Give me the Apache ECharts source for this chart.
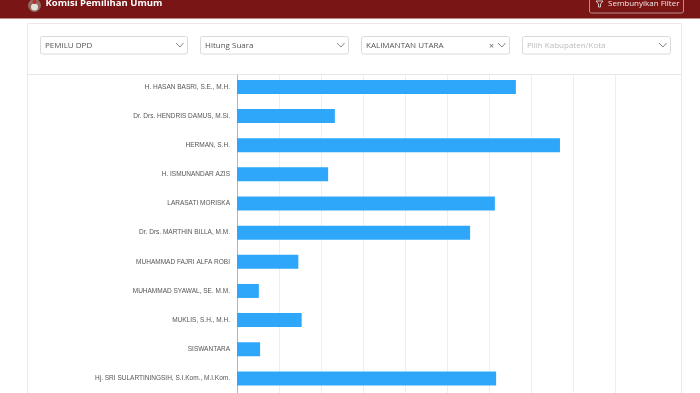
<!DOCTYPE html>
<html><head><meta charset="utf-8">
<style>html,body{margin:0;padding:0;background:#fff;overflow:hidden}#c{width:700px;height:393px}</style>
<script src="https://cdn.jsdelivr.net/npm/echarts@6/dist/echarts.min.js"></script>
</head><body><div id="c"></div>
<script>
const categories = ["H. HASAN BASRI, S.E., M.H.","Dr. Drs. HENDRIS DAMUS, M.Si.","HERMAN, S.H.","H. ISMUNANDAR AZIS","LARASATI MORISKA","Dr. Drs. MARTHIN BILLA, M.M.","MUHAMMAD FAJRI ALFA ROBI","MUHAMMAD SYAWAL, SE. M.M.","MUKLIS, S.H., M.H.","SISWANTARA","Hj. SRI SULARTININGSIH, S.I.Kom., M.I.Kom."];
const votes = [66400,23300,76900,21700,61400,55500,14600,5200,15400,5500,61700];
const filters = ["PEMILU DPD","Hitung Suara","KALIMANTAN UTARA","Pilih Kabupaten/Kota"];
const chart = echarts.init(document.getElementById('c'),null,{renderer:'canvas'});
const font = '"Open Sans", sans-serif';
function box(x,w,label,color,clear){
  const els=[
   {type:'rect',z:20,shape:{x:x+.5,y:36.5,width:w,height:17.5,r:2},style:{fill:'#fff',stroke:'#d8dadd',lineWidth:1}},
   {type:'text',z:21,style:{x:x+5,y:45.5,text:label,fill:color,font:'8px '+font,verticalAlign:'middle'}},
   {type:'polyline',z:21,shape:{points:[[x+w-11,43],[x+w-7,47],[x+w-3.5,43]]},style:{stroke:'#888',fill:null,lineWidth:1}}
  ];
  if(clear)els.push({type:'text',z:21,style:{x:x+w-20,y:46,text:'×',fill:'#666',font:'9px '+font,verticalAlign:'middle'}});
  return els;
}
chart.setOption({
  animation:false,
  grid:{left:237,top:72.3,width:378,height:322.85,containLabel:false},
  xAxis:{type:'value',min:0,max:90000,interval:10000,position:'top',axisLabel:{show:false},axisTick:{show:false},axisLine:{show:false},splitLine:{show:true,lineStyle:{color:'#eeeeee',width:1}}},
  yAxis:{type:'category',inverse:true,data:categories,axisTick:{show:false},axisLine:{show:true,lineStyle:{color:'#b5b5b5',width:1}},axisLabel:{color:'#555',fontSize:6.5,fontFamily:'"Liberation Sans", Arial, sans-serif',margin:7,interval:0,padding:[2,0,0,0]}},
  series:[{type:'bar',data:votes,barWidth:14,itemStyle:{color:'#2ea7fb'}}],
  graphic:[
    {type:'rect',z:10,shape:{x:27.5,y:23.5,width:654,height:400},style:{fill:null,stroke:'#e9e9e9',lineWidth:1}},
    {type:'rect',z:10,shape:{x:28,y:24,width:653,height:50.5},style:{fill:'#fff'}},
    {type:'line',z:11,shape:{x1:27,y1:74.5,x2:682,y2:74.5},style:{stroke:'#e6e6e6',lineWidth:1}},
    {type:'rect',z:12,shape:{x:0,y:0,width:700,height:18.5},style:{fill:'#7a1515'}},
    {type:'circle',z:13,shape:{cx:34.5,cy:5.5,r:6.5},style:{fill:'#8f6a60'}},
    {type:'circle',z:14,shape:{cx:34.5,cy:7,r:3.5},style:{fill:'#e6dfd8'}},
    {type:'circle',z:14,shape:{cx:34.5,cy:2,r:2},style:{fill:'#c22a2a'}},
    {type:'text',z:13,style:{x:45.5,y:3.5,text:'Komisi Pemilihan Umum',fill:'#fff',font:'bold 9.5px "Open Sans", sans-serif',verticalAlign:'middle'}},
    {type:'rect',z:13,shape:{x:589.5,y:-5,width:94,height:18,r:2},style:{fill:null,stroke:'#b98c8c',lineWidth:1}},
    {type:'polygon',z:13,shape:{points:[[596,1],[603,1],[600.5,4],[600.5,7],[598.5,7],[598.5,4]]},style:{fill:null,stroke:'#eee',lineWidth:.8}},
    {type:'text',z:13,style:{x:608,y:4,text:'Sembunyikan Filter',fill:'#f3e6e6',font:'8px "Open Sans", sans-serif',verticalAlign:'middle'}},
    ...box(40,147,filters[0],'#555'),
    ...box(200,148,filters[1],'#555'),
    ...box(361,148,filters[2],'#555',true),
    ...box(522,148,filters[3],'#bbb')
  ]
});
</script></body></html>
